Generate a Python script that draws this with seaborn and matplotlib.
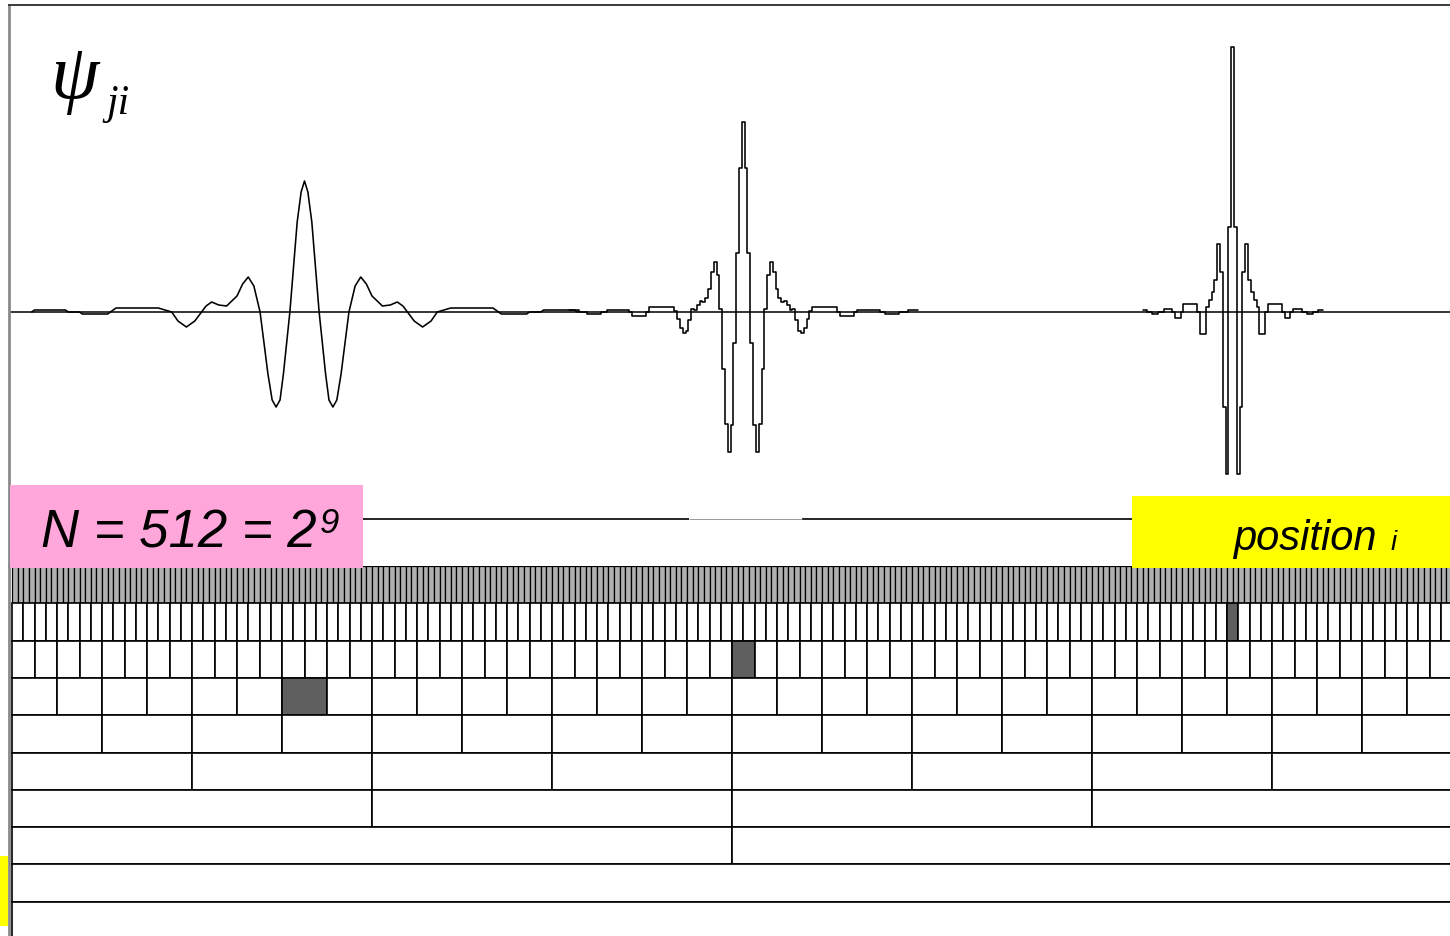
import matplotlib
matplotlib.use("Agg")
import numpy as np
import pandas as pd
import seaborn as sns
import matplotlib.pyplot as plt
from matplotlib.patches import Rectangle

# ---------------- data ----------------
N_SAMPLES = 512
level_counts = [256, 128, 64, 32, 16, 8, 4, 2, 1, 1]      # cells per row (top -> bottom)
highlight_row = [1, 2, 3]                                   # rows with a shaded cell
highlight_cell = [108, 32, 6]                               # index of the shaded cell
wavelet_centers = [104, 260, 434]                           # sample position of each psi_ji

# coarse wavelet (row 4) : offsets from its centre and amplitude
w1_t = [-97, -96, -85, -84, -80, -79, -70, -69, -67, -52, -47.2, -45, -42, -39, -36.6,
        -35, -33, -30.5, -27.7, -24, -22, -20, -18, -15.8, -13, -11.5, -10.1, -8.7,
        -7.5, -5.2, -2.6, -1.2, 0, 1.2, 2.6, 5.2, 7.5, 8.7, 10.1, 11.5, 13, 15.8, 18,
        20, 22, 24, 27.7, 30.5, 33, 35, 36.6, 39, 42, 45, 47.2, 52, 67, 69, 70, 79,
        80, 84, 85, 96, 97]
w1_y = [0, 0.02, 0.02, 0, 0, -0.02, -0.02, 0, 0.04, 0.04, 0, -0.09, -0.15, -0.09, 0,
        0.06, 0.10, 0.07, 0.06, 0.16, 0.28, 0.35, 0.26, 0, -0.62, -0.88, -0.95, -0.88,
        -0.62, 0, 0.90, 1.20, 1.31, 1.20, 0.90, 0, -0.62, -0.88, -0.95, -0.88, -0.62,
        0, 0.26, 0.35, 0.28, 0.16, 0.06, 0.07, 0.10, 0.06, 0, -0.09, -0.15, -0.09, 0,
        0.04, 0.04, 0, -0.02, -0.02, 0, 0, 0.02, 0.02, 0]

# middle wavelet (row 3), one value per sample, offsets -62..62
w2_y = [0.02, 0.02, 0.02, 0.02, 0, 0, 0, -0.02, -0.02, -0.02, -0.02, -0.02, 0, 0,
        0.02, 0.02, 0.02, 0.02, 0.02, 0.02, 0.02, 0.02, 0, -0.04, -0.04, -0.04, -0.04,
        -0.04, 0, 0.05, 0.05, 0.05, 0.05, 0.05, 0.05, 0.05, 0.05, 0.05, 0.01,
        -0.07, -0.16, -0.21, -0.19, -0.08, 0.03, 0.02, 0.07, 0.11, 0.10, 0.14, 0.23,
        0.40, 0.50, 0.37, 0.03, -0.57, -1.12, -1.40, -1.13, -0.31, 0.59, 1.44,
        1.90,
        1.44, 0.59, -0.31, -1.13, -1.40, -1.12, -0.57, 0.03, 0.37, 0.50, 0.40, 0.23,
        0.14, 0.10, 0.11, 0.07, 0.02, 0.03, -0.08, -0.19, -0.21, -0.16, -0.07,
        0.01, 0.05, 0.05, 0.05, 0.05, 0.05, 0.05, 0.05, 0.05, 0.05, 0, -0.04, -0.04,
        -0.04, -0.04, -0.04, 0, 0.02, 0.02, 0.02, 0.02, 0.02, 0.02, 0.02, 0.02, 0, 0,
        -0.02, -0.02, -0.02, -0.02, -0.02, 0, 0, 0, 0.02, 0.02, 0.02, 0.02]

# fine wavelet (row 2), one value per sample, offsets -32..32
w3_y = [0.02, 0.02, 0, 0, -0.02, -0.02, 0, 0, 0.03, 0.03, 0.03, 0, -0.06, -0.06, 0,
        0.08, 0.08, 0.08, 0.08, 0.08, 0, -0.22, -0.22, 0.05, 0.12, 0.20, 0.32, 0.68,
        0.40, -0.95, -1.62, 0.85,
        2.65,
        0.85, -1.62, -0.95, 0.40, 0.68, 0.32, 0.20, 0.12, 0.05, -0.22, -0.22, 0, 0.08,
        0.08, 0.08, 0.08, 0.08, 0, -0.06, -0.06, 0, 0.03, 0.03, 0.03, 0, 0, -0.02,
        -0.02, 0, 0, 0.02, 0.02]

label_n = "N = 512 = 2"
label_n_exp = "9"
label_pos = "position"
label_pos_i = "i"
label_psi = "ψ"
label_psi_sub = "ji"

# ---------------- figure ----------------
sns.set_theme(style="white")
plt.rcParams["font.family"] = ["Liberation Sans", "DejaVu Sans"]
plt.rcParams["text.color"] = "black"
W, H = 1450, 937
fig = plt.figure(figsize=(W / 100, H / 100), dpi=100)
fig.patch.set_facecolor("white")

px_per_sample = 1440 / N_SAMPLES
x_left = (9 - 12) / px_per_sample
xlim = (x_left, N_SAMPLES)
ax_w = (1452 - 9) / W

ax_grid = fig.add_axes([9 / W, (H - 940) / H, ax_w, 373 / H])
ax_top = fig.add_axes([9 / W, (H - 567) / H, ax_w, 561 / H])
ax_top.set_zorder(3)
ax_top.patch.set_alpha(0)

for ax in (ax_top, ax_grid):
    ax.set_xlim(*xlim)
    ax.set_xticks([]); ax.set_yticks([])
    for s in ("right", "bottom", "top"):
        ax.spines[s].set_visible(False)
    ax.spines["left"].set_color("#8a8a8a")
    ax.spines["left"].set_linewidth(2.0)
ax_top.spines["top"].set_visible(True)
ax_top.spines["top"].set_color("#3a3a3a")
ax_top.spines["top"].set_linewidth(1.4)

ax_top.set_ylim(-2.54, 3.07)
ax_grid.set_ylim(len(level_counts), 0)

# ---- wavelets ----
ax_top.axhline(0, color="black", lw=1.1, zorder=1)
sns.lineplot(x=np.array(w1_t) + wavelet_centers[0], y=w1_y, ax=ax_top, color="black",
             lw=1.15, estimator=None, sort=False, legend=False, zorder=2)
k2 = np.arange(len(w2_y)) - (len(w2_y) - 1) // 2
sns.lineplot(x=k2 + wavelet_centers[1], y=w2_y, ax=ax_top, color="black", lw=1.15,
             estimator=None, sort=False, legend=False, drawstyle="steps-mid", zorder=2)
k3 = np.arange(len(w3_y)) - (len(w3_y) - 1) // 2
sns.lineplot(x=k3 + wavelet_centers[2], y=w3_y, ax=ax_top, color="black", lw=1.15,
             estimator=None, sort=False, legend=False, drawstyle="steps-mid", zorder=2)

# separator line under the wavelets
sep_y = -2.07
gap = ((689 - 12) / px_per_sample, (802 - 12) / px_per_sample)
ax_top.hlines(sep_y, x_left, gap[0], color="black", lw=1.2)
ax_top.hlines(sep_y, gap[1], N_SAMPLES, color="black", lw=1.2)
ax_top.hlines(sep_y, gap[0], gap[1], color="#9a9a9a", lw=0.7)

# labels
serif = ["Liberation Serif", "DejaVu Serif"]
ax_top.text(13.5, 2.15, label_psi, fontsize=56, family=serif, style="italic",
            ha="left", va="baseline")
ax_top.text(33.5, 1.99, label_psi_sub, fontsize=30, family=serif, style="italic",
            ha="left", va="baseline")

ax_top.add_patch(Rectangle((x_left + 0.3, -2.56), (363 - 10) / px_per_sample, 0.83,
                           facecolor="#ffa6da", edgecolor="none", clip_on=False, zorder=4))
ax_top.text(10.4, -2.35, label_n, fontsize=38, style="italic", ha="left",
            va="baseline", zorder=5)
ax_top.text(109.5, -2.20, label_n_exp, fontsize=25, style="italic", ha="left",
            va="baseline", zorder=5)

ax_top.add_patch(Rectangle(((1132 - 12) / px_per_sample, -2.56), 120, 0.72,
                           facecolor="#ffff00", edgecolor="none", clip_on=False, zorder=4))
ax_top.text(434.1, -2.37, label_pos, fontsize=30, style="italic", ha="left",
            va="baseline", zorder=5)
ax_top.text(490.0, -2.37, label_pos_i, fontsize=20, style="italic", ha="left",
            va="baseline", zorder=5)

# ---- dyadic tiling ----
for row, count in enumerate(level_counts):
    width = N_SAMPLES / count
    lefts = np.arange(count) * width
    face = ["#b0b0b0" if row == 0 else "white"] * count
    if row in highlight_row:
        face[highlight_cell[highlight_row.index(row)]] = "#5f5f5f"
    ax_grid.bar(lefts, 1.0, width=width, bottom=row, align="edge", color=face,
                edgecolor="black", linewidth=0.9 if row == 0 else 1.2)

fig.add_artist(Rectangle((0, (H - 927) / H), 8 / W, 70 / H, transform=fig.transFigure,
                         facecolor="#ffff00", edgecolor="none"))

fig.savefig("out.png", dpi=100)
